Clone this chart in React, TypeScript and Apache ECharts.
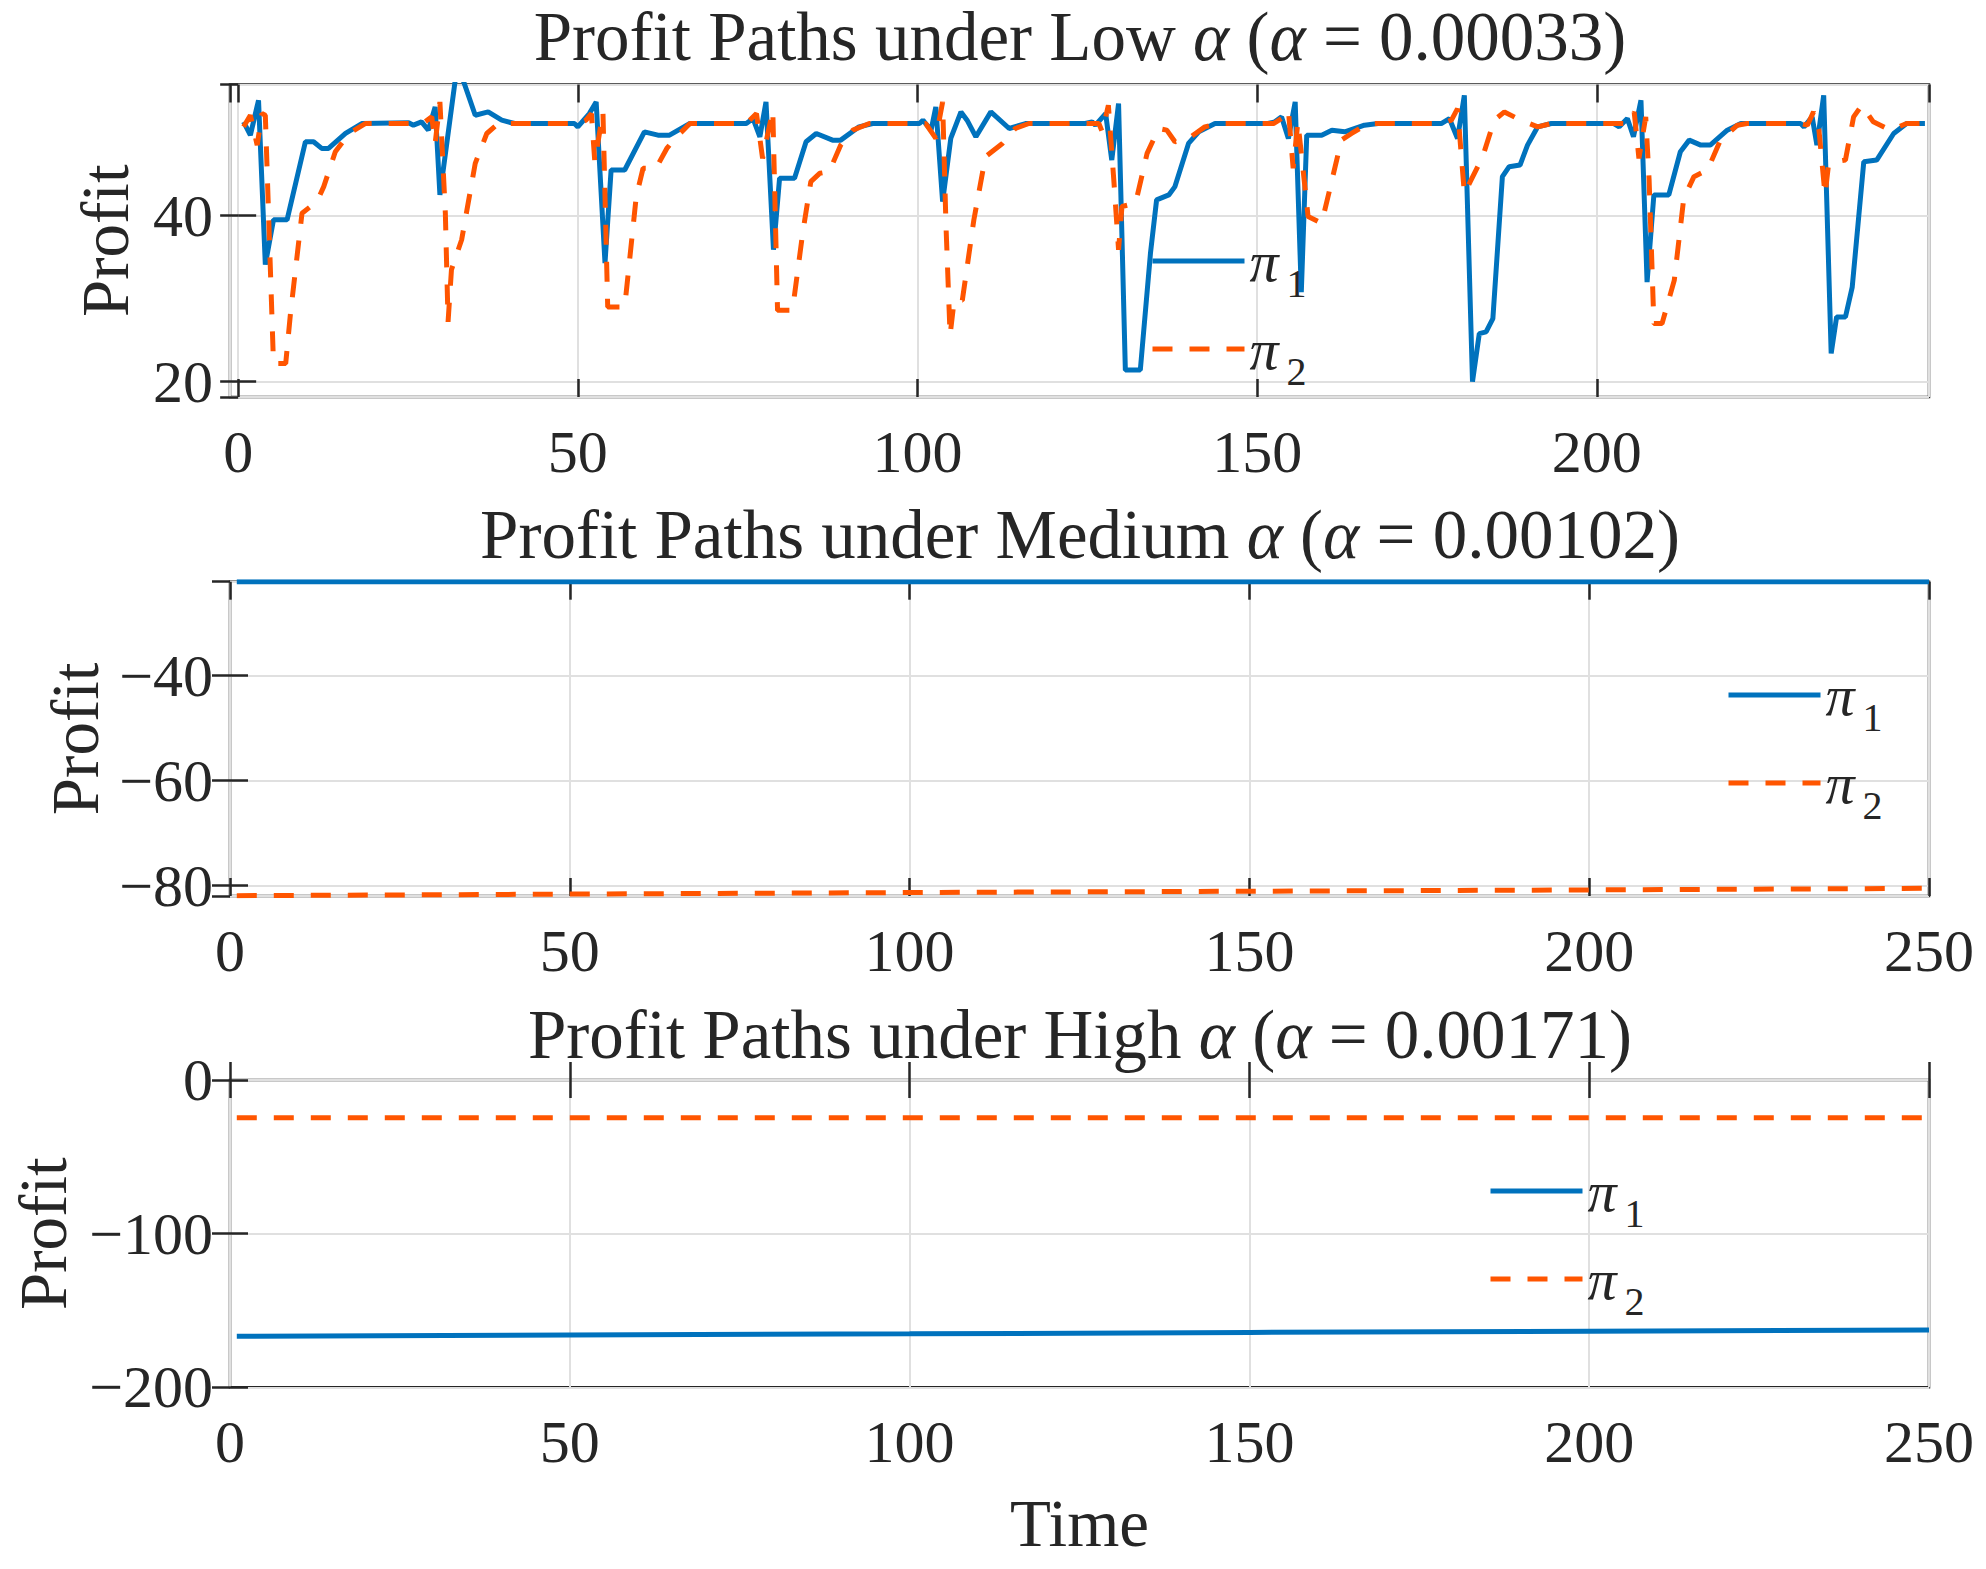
import React, { useEffect, useRef } from "react";
import * as echarts from "echarts";

// ---------------- data ----------------
const panelLevels = ["Low", "Medium", "High"];
const alphaValues = ["0.00033", "0.00102", "0.00171"];
const seriesNames = ["π1", "π2"];

// Low alpha: firm 1 (solid blue)
const lowTime1 = [0.8, 1.8, 3.0, 4.0, 5.2, 7.2, 9.9, 11.1, 12.3, 13.3, 15.8, 18.2, 25.1, 25.8, 27.0, 28.0, 29.0, 29.7, 32.0, 33.0, 34.9, 36.8, 38.8, 40.7, 49.5, 50.0, 51.7, 52.7, 54.0, 54.9, 56.9, 59.8, 61.8, 63.5, 66.5, 74.8, 75.8, 76.8, 77.7, 78.8, 79.7, 81.9, 83.6, 85.1, 87.5, 88.7, 91.4, 93.4, 100.3, 100.8, 101.2, 102.0, 102.7, 103.7, 104.9, 106.4, 107.3, 108.6, 110.8, 113.5, 115.9, 124.7, 125.7, 126.2, 127.7, 128.6, 129.6, 130.6, 132.8, 134.3, 135.2, 137.0, 137.9, 139.9, 141.4, 143.8, 151.6, 152.6, 153.6, 154.6, 155.6, 156.5, 157.3, 159.5, 161.0, 162.9, 165.8, 167.8, 177.1, 178.3, 179.5, 180.5, 181.7, 182.7, 183.7, 184.7, 186.1, 187.1, 188.7, 189.8, 191.3, 193.3, 202.5, 203.3, 204.5, 205.4, 206.5, 207.4, 208.4, 210.6, 212.3, 213.6, 215.3, 216.7, 219.2, 221.2, 230.0, 230.5, 231.7, 232.4, 233.4, 234.5, 235.3, 236.6, 237.6, 239.3, 241.2, 243.7, 245.6, 248.3];
const lowProfit1 = [51.3, 49.7, 53.9, 34.1, 39.5, 39.5, 48.9, 48.9, 48.1, 48.1, 49.9, 51.1, 51.2, 50.9, 51.3, 50.3, 53.1, 42.5, 56.6, 56.6, 52.1, 52.5, 51.5, 51.1, 51.1, 50.7, 52.3, 53.7, 34.3, 45.5, 45.5, 50.1, 49.7, 49.7, 51.1, 51.1, 51.7, 49.5, 53.7, 35.9, 44.5, 44.5, 48.9, 49.9, 49.1, 49.1, 50.7, 51.1, 51.1, 51.5, 51.1, 50.3, 53.1, 41.7, 49.3, 52.5, 51.5, 49.5, 52.5, 50.5, 51.1, 51.1, 51.3, 50.9, 52.3, 46.7, 53.5, 21.4, 21.4, 35.5, 41.9, 42.5, 43.5, 48.7, 50.1, 51.1, 51.1, 51.3, 51.9, 49.3, 53.7, 30.8, 49.7, 49.7, 50.3, 50.1, 50.9, 51.1, 51.1, 51.7, 49.3, 54.5, 20.0, 25.8, 26.0, 27.6, 44.7, 45.9, 46.1, 48.5, 50.7, 51.1, 51.1, 50.7, 51.7, 49.5, 53.9, 32.0, 42.5, 42.5, 47.7, 49.1, 48.5, 48.5, 50.3, 51.1, 51.1, 50.7, 51.9, 48.5, 54.5, 23.4, 27.8, 27.8, 31.4, 46.5, 46.7, 49.9, 51.1, 51.1];

// Low alpha: firm 2 (dashed orange)
const lowTime2 = [0.8, 1.8, 2.8, 3.5, 4.0, 5.2, 7.0, 7.7, 9.4, 11.6, 12.6, 14.3, 16.3, 18.7, 26.0, 27.5, 28.5, 29.0, 29.7, 30.5, 30.9, 31.4, 32.9, 34.9, 36.6, 38.3, 50.0, 51.2, 52.0, 52.5, 53.7, 54.4, 56.9, 58.6, 59.6, 61.5, 63.1, 64.3, 66.5, 74.8, 76.3, 77.2, 78.7, 79.4, 81.6, 83.1, 84.3, 85.6, 87.0, 88.7, 90.5, 92.9, 99.8, 101.2, 102.7, 103.7, 104.2, 104.8, 105.4, 106.6, 108.3, 110.0, 112.5, 114.4, 116.4, 126.7, 127.2, 128.1, 128.9, 129.6, 130.1, 132.1, 133.8, 135.5, 136.7, 137.9, 139.9, 142.3, 144.3, 152.4, 153.6, 154.6, 155.3, 156.0, 157.5, 159.5, 160.9, 162.4, 163.9, 166.3, 177.1, 178.6, 179.5, 180.5, 181.5, 183.2, 184.9, 186.4, 188.8, 191.3, 193.3, 203.0, 204.5, 205.5, 206.2, 207.2, 207.7, 208.4, 209.6, 211.4, 212.8, 214.3, 216.3, 218.2, 220.7, 222.1, 230.0, 231.0, 231.9, 232.7, 233.6, 234.1, 235.1, 236.6, 237.8, 239.0, 240.7, 243.2, 245.6, 248.3];
const lowProfit2 = [50.7, 52.1, 48.5, 52.3, 52.1, 22.2, 22.2, 28.2, 40.3, 41.7, 43.5, 47.7, 49.9, 51.1, 51.1, 51.3, 51.9, 48.7, 53.7, 40.3, 27.2, 33.5, 37.1, 46.3, 49.9, 51.1, 51.1, 51.5, 52.3, 46.5, 52.5, 29.0, 29.0, 42.3, 45.7, 45.7, 48.1, 49.3, 51.1, 51.1, 52.3, 46.9, 52.7, 28.6, 28.6, 37.9, 44.1, 45.1, 45.3, 48.5, 50.3, 51.1, 51.1, 51.1, 49.3, 53.7, 38.7, 25.6, 29.8, 29.8, 39.5, 47.1, 48.7, 50.5, 51.1, 51.1, 50.1, 53.3, 44.3, 35.9, 41.1, 41.5, 47.5, 50.5, 50.3, 48.9, 49.3, 50.7, 51.1, 51.1, 51.7, 52.7, 45.7, 51.3, 39.9, 39.1, 43.9, 49.1, 49.9, 51.1, 51.1, 51.5, 52.9, 42.7, 44.3, 47.1, 51.5, 52.5, 51.5, 50.7, 51.1, 51.1, 51.1, 52.5, 46.9, 51.9, 44.3, 27.0, 27.0, 32.2, 42.1, 44.7, 45.5, 49.1, 50.9, 51.1, 51.1, 50.9, 52.5, 50.3, 42.5, 46.1, 46.5, 46.7, 51.9, 53.3, 51.3, 50.3, 51.1, 51.1];

// Medium alpha
const medTime = [1, 50, 100, 150, 200, 250];
const medProfit1 = [-22.1, -22.1, -22.1, -22.1, -22.1, -22.1];
const medProfit2 = [-81.9, -81.6, -81.3, -81.05, -80.8, -80.5];

// High alpha
const highTime = [1, 50, 100, 150, 200, 250];
const highProfit1 = [-166.8, -166.0, -165.2, -164.3, -163.5, -162.7];
const highProfit2 = [-24.5, -24.5, -24.5, -24.5, -24.5, -24.5];

// axis ranges and tick steps
const xMin = [-1.2, 0, 0];
const xMax = [248.9, 250, 250];
const xStep = [50, 50, 50];
const yMin = [18.16, -81.96, -200];
const yMax = [55.8, -22.1, 0];
const yStep = [20, 20, 100];

// ---------------- styling ----------------
const FONT = "'Liberation Serif', 'Times New Roman', serif";
const INK = "#262626";
const GRIDC = "#e0e0e0";
const BLUE = "#0072BD";
const ORANGE = "#FF5500";
const LW = 5;
const DASH = [20, 17];

const gridBoxes = [
  { left: 230, top: 84.5, width: 1699, height: 312.5 },
  { left: 230, top: 581.7, width: 1699, height: 314.3 },
  { left: 230, top: 1080, width: 1699, height: 307.3 },
];
const titleTops = [2, 500, 1000];
const yNameGaps = [92, 118, 154];
const legendPos = [
  { left: 1150, top: 232 },
  { left: 1726, top: 666 },
  { left: 1488, top: 1162 },
];

const fmt = (v: number) => (v < 0 ? "\u2212" + Math.abs(v) : String(v));

const pairs = (t: number[], v: number[]) => t.map((x, i) => [x, v[i]]);

function buildOption() {
  const grid = gridBoxes.map((g) => ({
    ...g,
    show: true,
    borderColor: INK,
    borderWidth: 2.5,
    backgroundColor: "#fff",
    containLabel: false,
  }));

  const tickStyle = { show: true, inside: true, length: 18, lineStyle: { color: INK, width: 2.5 } };
  const labelBase = { fontFamily: FONT, fontSize: 60, color: INK, formatter: fmt };

  const xAxis: any[] = [];
  const yAxis: any[] = [];
  for (let gi = 0; gi < 3; gi++) {
    const showEnds = gi !== 0;
    const xSplit = Math.round((xMax[gi] - xMin[gi]) / xStep[gi]);
    xAxis.push({
      type: "value",
      gridIndex: gi,
      position: "bottom",
      min: xMin[gi],
      max: xMax[gi],
      splitNumber: xSplit,
      minInterval: xStep[gi],
      maxInterval: xStep[gi],
      axisLine: { show: false },
      axisTick: tickStyle,
      axisLabel: { ...labelBase, margin: 25, showMinLabel: showEnds, showMaxLabel: showEnds },
      splitLine: { show: true, lineStyle: { color: GRIDC, width: 2 } },
      name: gi === 2 ? "Time" : "",
      nameLocation: "middle",
      nameGap: 102,
      nameTextStyle: { fontFamily: FONT, fontSize: 67, color: INK },
    });
  }
  for (let gi = 0; gi < 3; gi++) {
    const xSplit = Math.round((xMax[gi] - xMin[gi]) / xStep[gi]);
    xAxis.push({
      type: "value",
      gridIndex: gi,
      position: "top",
      min: xMin[gi],
      max: xMax[gi],
      splitNumber: xSplit,
      minInterval: xStep[gi],
      maxInterval: xStep[gi],
      axisLine: { show: false },
      axisTick: tickStyle,
      axisLabel: { show: false },
      splitLine: { show: false },
    });
  }
  for (let gi = 0; gi < 3; gi++) {
    const showEnds = gi === 2;
    const ySplit = Math.max(2, Math.round((yMax[gi] - yMin[gi]) / yStep[gi]));
    yAxis.push({
      type: "value",
      gridIndex: gi,
      position: "left",
      min: yMin[gi],
      max: yMax[gi],
      splitNumber: ySplit,
      minInterval: yStep[gi],
      maxInterval: yStep[gi],
      axisLine: { show: false },
      axisTick: tickStyle,
      axisLabel: { ...labelBase, margin: 17, showMinLabel: showEnds, showMaxLabel: showEnds },
      splitLine: { show: true, lineStyle: { color: GRIDC, width: 2 } },
      name: "Profit",
      nameLocation: "middle",
      nameRotate: 90,
      nameGap: yNameGaps[gi],
      nameTextStyle: { fontFamily: FONT, fontSize: 67, color: INK },
    });
  }
  for (let gi = 0; gi < 3; gi++) {
    const ySplit = Math.max(2, Math.round((yMax[gi] - yMin[gi]) / yStep[gi]));
    yAxis.push({
      type: "value",
      gridIndex: gi,
      position: "right",
      min: yMin[gi],
      max: yMax[gi],
      splitNumber: ySplit,
      minInterval: yStep[gi],
      maxInterval: yStep[gi],
      axisLine: { show: false },
      axisTick: tickStyle,
      axisLabel: { show: false },
      splitLine: { show: false },
    });
  }

  const panelData = [
    [pairs(lowTime1, lowProfit1), pairs(lowTime2, lowProfit2)],
    [pairs(medTime, medProfit1), pairs(medTime, medProfit2)],
    [pairs(highTime, highProfit1), pairs(highTime, highProfit2)],
  ];
  const series: any[] = [];
  for (let gi = 0; gi < 3; gi++) {
    series.push({
      type: "line",
      name: seriesNames[0],
      xAxisIndex: gi,
      yAxisIndex: gi,
      data: panelData[gi][0],
      symbol: "none",
      lineStyle: { color: BLUE, width: LW },
      itemStyle: { color: BLUE },
      z: 3,
    });
    series.push({
      type: "line",
      name: seriesNames[1],
      xAxisIndex: gi,
      yAxisIndex: gi,
      data: panelData[gi][1],
      symbol: "none",
      lineStyle: { color: ORANGE, width: LW, type: DASH },
      itemStyle: { color: ORANGE },
      z: 4,
    });
  }

  const title = panelLevels.map((lvl, i) => ({
    text: `Profit Paths under ${lvl} {i|α} ({i|α} = ${alphaValues[i]})`,
    left: 1080,
    top: titleTops[i],
    textAlign: "center",
    padding: 0,
    textStyle: {
      fontFamily: FONT,
      fontSize: 69,
      fontWeight: "normal",
      color: INK,
      rich: { i: { fontFamily: FONT, fontSize: 69, fontStyle: "italic", color: INK } },
    },
  }));

  const legend = legendPos.map((p) => ({
    data: [
      { name: seriesNames[0], lineStyle: { color: BLUE, width: LW, type: "solid" } },
      { name: seriesNames[1], lineStyle: { color: ORANGE, width: LW, type: DASH } },
    ],
    orient: "vertical",
    left: p.left,
    top: p.top,
    padding: 0,
    itemWidth: 92,
    itemHeight: 10,
    itemGap: 17,
    selectedMode: false,
    itemStyle: { opacity: 0 },
    lineStyle: { width: LW },
    formatter: (name: string) => `{pi|π}{sub|${name.slice(1)}}`,
    textStyle: {
      color: INK,
      fontFamily: FONT,
      rich: {
        pi: { fontFamily: FONT, fontStyle: "italic", fontSize: 58, color: INK },
        sub: { fontFamily: FONT, fontSize: 40, color: INK, padding: [44, 0, 0, 8] },
      },
    },
  }));

  return {
    animation: false,
    backgroundColor: "#ffffff",
    title,
    legend,
    grid,
    xAxis,
    yAxis,
    series,
  };
}

export default function App() {
  const ref = useRef<HTMLDivElement>(null);
  useEffect(() => {
    if (!ref.current) return;
    const chart = echarts.init(ref.current, null, { renderer: "svg" });
    chart.setOption(buildOption() as any);
    return () => chart.dispose();
  }, []);
  return (
    <div
      ref={ref}
      style={{ position: "fixed", left: 0, top: 0, width: 1986, height: 1569, background: "#fff" }}
    />
  );
}
